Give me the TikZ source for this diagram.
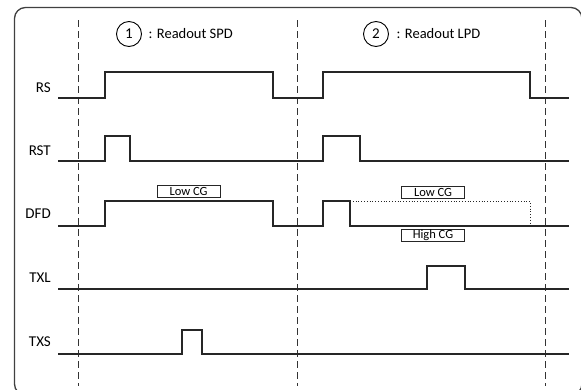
\documentclass[tikz,border=0pt]{standalone}
\usepackage{fontspec}
\setmainfont{Carlito}
\begin{document}
\begin{tikzpicture}[x=1pt,y=-1pt,
  wave/.style={draw=black!85,line width=1.2pt,line join=miter},
  guide/.style={draw=black!80,line width=0.9pt,dash pattern=on 7pt off 4pt},
  siglabel/.style={anchor=east,font=\fontsize{15}{17}\selectfont,inner sep=0pt},
  cgbox/.style={draw=black!85,line width=0.9pt,font=\fontsize{12.5}{14}\selectfont,inner sep=0pt,minimum width=63pt,minimum height=12pt},
  numcirc/.style={draw=black,line width=0.9pt,circle,minimum size=25pt,inner sep=0pt,font=\fontsize{15}{17}\selectfont},
  title/.style={anchor=west,font=\fontsize{14.5}{16}\selectfont,inner sep=0pt}]
\useasboundingbox (0,0) rectangle (581,389);
\begin{scope}
\clip (0,0) rectangle (581,389);
\draw[black!75,line width=1.3pt,rounded corners=11pt] (14.5,7.5) rectangle (582,395);
\end{scope}
% guides
\draw[guide] (78,20) -- (78,386);
\draw[guide] (297,20) -- (297,386);
\draw[guide] (545,20) -- (545,386);
% titles
\node[numcirc] (c1) at (129,34) {1};
\node[title] (t1) at (148.5,34) {: Readout SPD};
\node[numcirc] (c2) at (376,34) {2};
\node[title] (t2) at (396.5,34) {: Readout LPD};
% labels
\node[siglabel] (lrs) at (51,88) {RS};
\node[siglabel] (lrst) at (51,151) {RST};
\node[siglabel] (ldfd) at (51,214) {DFD};
\node[siglabel] (ltxl) at (51,278) {TXL};
\node[siglabel] (ltxs) at (51,342) {TXS};
% RS
\draw[wave] (58,98) -- (105,98) -- (105,72) -- (273,72) -- (273,98) -- (323,98) -- (323,72) -- (530,72) -- (530,98) -- (569,98);
% RST
\draw[wave] (58,161) -- (105,161) -- (105,136) -- (130,136) -- (130,161) -- (323,161) -- (323,136) -- (360,136) -- (360,161) -- (569,161);
% DFD
\draw[wave] (58,226) -- (105,226) -- (105,201) -- (273,201) -- (273,226) -- (323,226) -- (323,201) -- (350,201) -- (350,226) -- (569,226);
\draw[black!85,line width=0.8pt,dotted] (350,201) -- (530,201) -- (530,226);
\node[cgbox] (b1) at (188.5,191) {Low CG};
\node[cgbox] (b2) at (433,192) {Low CG};
\node[cgbox] (b3) at (433,235.5) {High CG};
% TXL
\draw[wave] (58,289) -- (427,289) -- (427,266) -- (465,266) -- (465,289) -- (569,289);
% TXS
\draw[wave] (58,354) -- (182,354) -- (182,330) -- (202,330) -- (202,354) -- (569,354);
\end{tikzpicture}
\end{document}
